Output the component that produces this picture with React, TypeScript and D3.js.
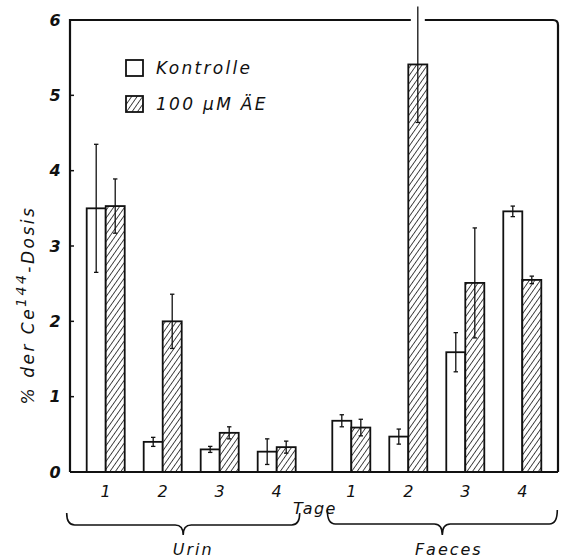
import React from 'react';
import * as d3 from 'd3';

// values (% der Ce-144-Dosis), errors are +/- half-ranges
const groups = ['Urin', 'Faeces'];
const days = ['1', '2', '3', '4'];
const seriesNames = ['Kontrolle', '100 μM ÄE'];

const urinKontrolle = [3.5, 0.4, 0.3, 0.27];
const urinKontrolleErr = [0.85, 0.06, 0.04, 0.17];
const urinAE = [3.53, 2.0, 0.52, 0.33];
const urinAEErr = [0.36, 0.36, 0.08, 0.08];

const faecesKontrolle = [0.68, 0.47, 1.59, 3.46];
const faecesKontrolleErr = [0.08, 0.1, 0.26, 0.07];
const faecesAE = [0.59, 5.41, 2.51, 2.55];
const faecesAEErr = [0.11, 0.77, 0.73, 0.05];

const yTicks = [0, 1, 2, 3, 4, 5, 6];

const W = 562;
const H = 560;
const FONT = '"DejaVu Sans", sans-serif';

type Bar = { group: string; day: string; series: number; value: number; err: number };

const bars: Bar[] = [];
groups.forEach((g) => {
  const vals = g === 'Urin' ? [urinKontrolle, urinAE] : [faecesKontrolle, faecesAE];
  const errs = g === 'Urin' ? [urinKontrolleErr, urinAEErr] : [faecesKontrolleErr, faecesAEErr];
  days.forEach((d, i) => {
    [0, 1].forEach((s) => {
      bars.push({ group: g, day: d, series: s, value: vals[s][i], err: errs[s][i] });
    });
  });
});

// curly brace, opening upward, tip pointing down
const bracePath = (x1: number, x2: number, yTop: number, yFlat: number, yTip: number) => {
  const xm = (x1 + x2) / 2;
  const r = 8;
  return `M${x1},${yTop} Q${x1},${yFlat} ${x1 + r},${yFlat} L${xm - r},${yFlat} Q${xm},${yFlat} ${xm},${yTip} ` +
    `Q${xm},${yFlat} ${xm + r},${yFlat} L${x2 - r},${yFlat} Q${x2},${yFlat} ${x2},${yTop}`;
};

export default function App() {
  const left = 70;
  const right = 558;
  const top = 20;
  const bottom = 472;

  const y = d3.scaleLinear().domain([0, 6]).range([bottom, top]);

  const xOuter = d3.scaleBand().domain(groups).range([left, right]).paddingInner(0.149).paddingOuter(0.068);
  const xDay = d3.scaleBand().domain(days).range([0, xOuter.bandwidth()]).paddingInner(0.333).paddingOuter(0);
  const xSeries = d3.scaleBand<number>().domain([0, 1]).range([0, xDay.bandwidth()]);

  const barX = (b: Bar) => (xOuter(b.group) ?? 0) + (xDay(b.day) ?? 0) + (xSeries(b.series) ?? 0);
  const dayCenter = (g: string, d: string) => (xOuter(g) ?? 0) + (xDay(d) ?? 0) + xDay.bandwidth() / 2;

  const bw = xSeries.bandwidth();
  const cap = 2.2;

  const urinStart = xOuter('Urin') ?? 0;
  const faecesStart = xOuter('Faeces') ?? 0;
  const gw = xOuter.bandwidth();

  return (
    <svg width={W} height={H} style={{ position: 'absolute', left: 0, top: 0, background: '#fff' }}>
      <defs>
        <pattern id="hatch" patternUnits="userSpaceOnUse" width="4.5" height="4.5" patternTransform="rotate(35)">
          <rect width="4.5" height="4.5" fill="#fff" />
          <line x1="0" y1="0" x2="0" y2="4.5" stroke="#111" strokeWidth="1.5" />
        </pattern>
      </defs>

      {/* bars */}
      {bars.map((b, i) => (
        <rect
          key={'b' + i}
          x={barX(b)}
          y={y(b.value)}
          width={bw}
          height={bottom - y(b.value)}
          fill={b.series === 1 ? 'url(#hatch)' : '#fff'}
          stroke="#111"
          strokeWidth={1.8}
        />
      ))}

      {/* frame */}
      <path
        d={`M${left},${bottom} L${left},${top} L${right - 5},${top} Q${right},${top} ${right},${top + 5} L${right},${bottom}`}
        fill="none"
        stroke="#111"
        strokeWidth={2.2}
      />
      <line x1={left} x2={right} y1={bottom} y2={bottom} stroke="#111" strokeWidth={2.2} />

      {/* error bars */}
      {bars.map((b, i) => {
        const cx = barX(b) + bw / 2;
        const y1 = y(b.value + b.err);
        const y2 = y(b.value - b.err);
        const over = b.value + b.err > y.domain()[1];
        return (
          <g key={'e' + i} stroke="#111" strokeWidth={1.3}>
            {over && <rect x={cx - 7} y={top - 3} width={14} height={6} fill="#fff" stroke="none" />}
            <line x1={cx} x2={cx} y1={y1} y2={y2} />
            {!over && <line x1={cx - cap} x2={cx + cap} y1={y1} y2={y1} />}
            <line x1={cx - cap} x2={cx + cap} y1={y2} y2={y2} />
          </g>
        );
      })}

      {/* y axis ticks */}
      {yTicks.map((t) => (
        <g key={'t' + t}>
          <line x1={left} x2={left + 4} y1={y(t)} y2={y(t)} stroke="#111" strokeWidth={1.5} />
          <text
            x={left - 15}
            y={y(t)}
            dy="0.35em"
            textAnchor="middle"
            fontFamily={FONT}
            fontStyle="italic"
            fontWeight="bold"
            fontSize={16}
            fill="#111"
          >
            {t}
          </text>
        </g>
      ))}

      {/* x tick labels */}
      {groups.map((g) =>
        days.map((d) => (
          <text
            key={g + d}
            x={dayCenter(g, d)}
            y={497}
            textAnchor="middle"
            fontFamily={FONT}
            fontStyle="italic"
            fontSize={16}
            fill="#111"
          >
            {d}
          </text>
        ))
      )}

      <text x={315} y={514} textAnchor="middle" fontFamily={FONT} fontStyle="italic" fontSize={16} letterSpacing={1.5} fill="#111">
        Tage
      </text>

      {/* braces */}
      <path d={bracePath(urinStart - 20, urinStart + gw + 4, 513, 525, 535)} fill="none" stroke="#111" strokeWidth={1.6} />
      <path d={bracePath(faecesStart - 5, faecesStart + gw + 16, 510, 524, 535)} fill="none" stroke="#111" strokeWidth={1.6} />

      <text x={urinStart + gw / 2 + 2} y={555} textAnchor="middle" fontFamily={FONT} fontStyle="italic" fontSize={16} letterSpacing={2} fill="#111">
        {groups[0]}
      </text>
      <text x={faecesStart + gw / 2 + 12} y={555} textAnchor="middle" fontFamily={FONT} fontStyle="italic" fontSize={16} letterSpacing={2} fill="#111">
        {groups[1]}
      </text>

      {/* y axis title */}
      <text
        transform="translate(34,305) rotate(-90)"
        textAnchor="middle"
        fontFamily={FONT}
        fontStyle="italic"
        fontSize={17}
        letterSpacing={2.5}
        fill="#111"
      >
        <tspan>{'%  der  Ce'}</tspan>
        <tspan dy={-8} fontSize={14}>144</tspan>
        <tspan dy={8}>-Dosis</tspan>
      </text>

      {/* legend */}
      {seriesNames.map((s, i) => (
        <g key={s} transform={`translate(126,${60 + i * 36})`}>
          <rect x={0} y={0} width={17} height={16} fill={i === 1 ? 'url(#hatch)' : '#fff'} stroke="#111" strokeWidth={1.8} />
          <text x={30} y={14} fontFamily={FONT} fontStyle="italic" fontSize={17} letterSpacing={2.3} fill="#111">
            {s}
          </text>
        </g>
      ))}
    </svg>
  );
}
